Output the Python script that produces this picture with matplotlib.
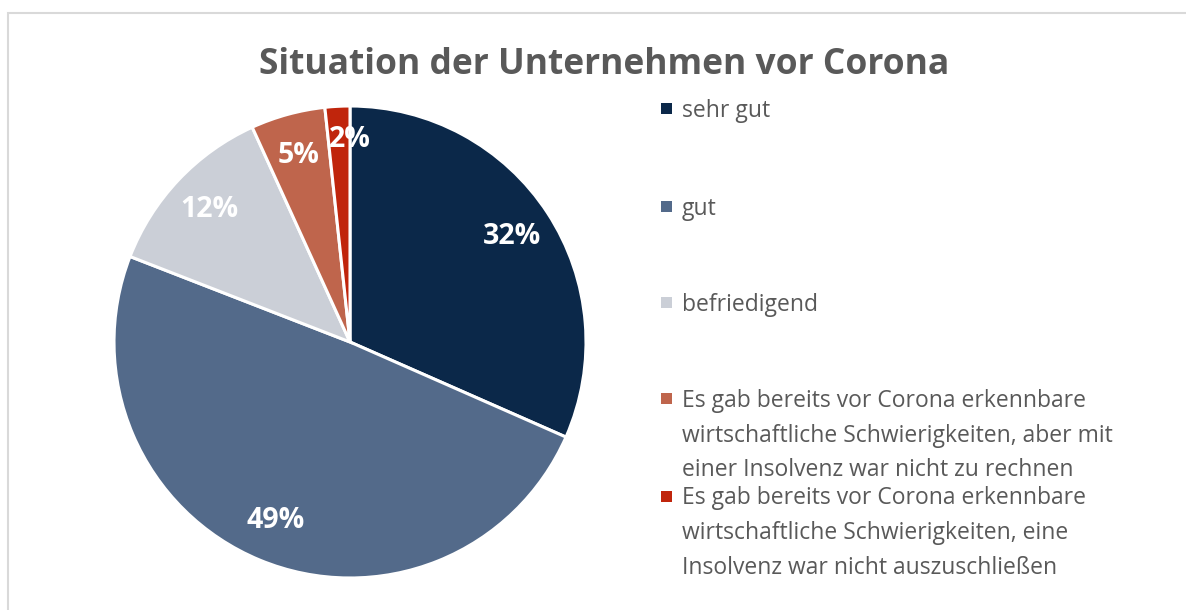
import matplotlib.pyplot as plt
from matplotlib.patches import Rectangle

# -----------------------
# Data
# -----------------------
categories = [
    "sehr gut",
    "gut",
    "befriedigend",
    "Es gab bereits vor Corona erkennbare\nwirtschaftliche Schwierigkeiten, aber mit\neiner Insolvenz war nicht zu rechnen",
    "Es gab bereits vor Corona erkennbare\nwirtschaftliche Schwierigkeiten, eine\nInsolvenz war nicht auszuschließen",
]
shares = [31.6, 49.3, 12.3, 5.1, 1.7]
colors = ["#0B2849", "#536A8A", "#CBCFD7", "#BF654C", "#C0250C"]

title = "Situation der Unternehmen vor Corona"
text_grey = "#595959"
font = "Open Sans"

W, H = 1186, 610
fig = plt.figure(figsize=(W / 100, H / 100), dpi=100)

# thin grey frame (only top and left edge visible in the original)
fig.patches.append(Rectangle((8 / W, -0.1), 1.2, (H - 13) / H + 0.1,
                             transform=fig.transFigure, fill=False,
                             edgecolor="#D9D9D9", linewidth=1.5))

# -----------------------
# Pie
# -----------------------
R = 236
cx, cy = 350, H - 342
ax = fig.add_axes([(cx - R) / W, (cy - R) / H, 2 * R / W, 2 * R / H])
wedges, texts, autotexts = ax.pie(
    shares,
    colors=colors,
    startangle=90,
    counterclock=False,
    radius=1,
    autopct="%.0f%%",
    pctdistance=0.82,
    wedgeprops=dict(edgecolor="white", linewidth=2.2),
    textprops=dict(color="white", fontsize=20.5, fontweight="bold", family=font),
)
# small slice label sits a bit further out/right like in Excel
x2, y2 = autotexts[-1].get_position()
autotexts[-1].set_position((x2 + 0.045, y2 + 0.04))

ax.set_xlim(-1, 1)
ax.set_ylim(-1, 1)
ax.set_aspect("equal")
ax.axis("off")

fig.text(604 / W, 1 - 65 / H, title, ha="center", va="center",
         fontsize=25.5, fontweight="bold", color=text_grey, family=font)

# -----------------------
# Legend (drawn by hand, marker aligned with first line)
# -----------------------
legend_y = [108, 206, 302.5, 398.5, 496]
line_step = 34.5
for lab, col, y in zip(categories, colors, legend_y):
    fig.patches.append(Rectangle((661 / W, 1 - (y + 5.5) / H), 11 / W, 11 / H,
                                 transform=fig.transFigure, facecolor=col,
                                 edgecolor="none"))
    for i, line in enumerate(lab.split("\n")):
        fig.text(682 / W, 1 - (y + 8.5 + i * line_step) / H, line,
                 ha="left", va="baseline", fontsize=16.5,
                 color=text_grey, family=font)

fig.savefig("out.png", dpi=100, facecolor="white")
